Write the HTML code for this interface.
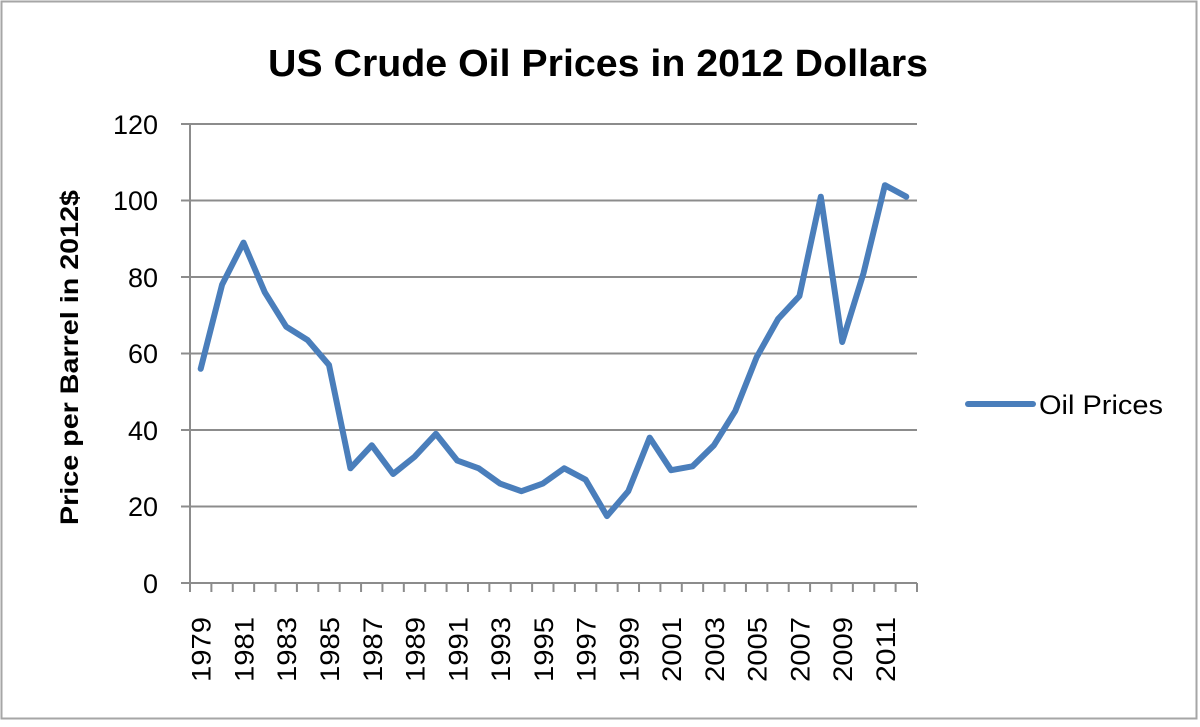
<!DOCTYPE html>
<html><head><meta charset="utf-8"><style>
html,body{margin:0;padding:0;background:#fff;}
</style></head><body>
<svg width="1200" height="722" viewBox="0 0 1200 722" xmlns="http://www.w3.org/2000/svg" font-family="Liberation Sans, DejaVu Sans, sans-serif">
<rect x="1.5" y="1.5" width="1195" height="717" fill="#fff" stroke="#a6a6a6" stroke-width="2"/>
<text x="268" y="76" textLength="660" lengthAdjust="spacingAndGlyphs" font-size="38" font-weight="bold" fill="#000">US Crude Oil Prices in 2012 Dollars</text>
<g stroke="#8c8c8c" stroke-width="2">
<line x1="181" y1="124" x2="917" y2="124"/>
<line x1="181" y1="200.5" x2="917" y2="200.5"/>
<line x1="181" y1="277" x2="917" y2="277"/>
<line x1="181" y1="353.5" x2="917" y2="353.5"/>
<line x1="181" y1="430" x2="917" y2="430"/>
<line x1="181" y1="506.5" x2="917" y2="506.5"/>
<line x1="181" y1="583" x2="917" y2="583"/>
<line x1="190" y1="124" x2="190" y2="592"/>
</g>
<g id="ticks" stroke="#8c8c8c" stroke-width="2"></g>
<g font-size="27" fill="#000" text-anchor="end">
<text x="158" y="134">120</text>
<text x="158" y="210">100</text>
<text x="158" y="287">80</text>
<text x="158" y="363">60</text>
<text x="158" y="440">40</text>
<text x="158" y="516">20</text>
<text x="158" y="593">0</text>
</g>
<text transform="translate(78,525) rotate(-90)" textLength="335" lengthAdjust="spacingAndGlyphs" font-size="25" font-weight="bold" fill="#000">Price per Barrel in 2012$</text>
<g id="xl" font-size="27" fill="#000"></g>
<polyline id="ln" fill="none" stroke="#4a7ebb" stroke-width="6" stroke-linejoin="round" stroke-linecap="round"/>
<line x1="968" y1="404" x2="1033" y2="404" stroke="#4a7ebb" stroke-width="6" stroke-linecap="round"/>
<text x="1039" y="414" textLength="124" lengthAdjust="spacingAndGlyphs" font-size="27" fill="#000">Oil Prices</text>
</svg>
<script>
var v=[56,78,89,76,67,63.5,57,30,36,28.5,33,39,32,30,26,24,26,30,27,17.5,24,38,29.5,30.5,36,45,59,69,75,101,63,81,104,101];
var x0=190,w=(917-190)/34,pts=[],t='',l='';
for(var i=0;i<v.length;i++){var x=x0+w*(i+0.5);pts.push(x.toFixed(1)+','+(583-v[i]*76.5/20).toFixed(1));}
for(var i=0;i<=34;i++){var x=x0+w*i;t+='<line x1="'+x+'" y1="583" x2="'+x+'" y2="592"/>';}
for(var i=0;i<34;i+=2){var x=x0+w*(i+0.5)+10;l+='<text transform="translate('+x+',682) rotate(-90)" textLength="65" lengthAdjust="spacingAndGlyphs">'+(1979+i)+'</text>';}
document.getElementById('ln').setAttribute('points',pts.join(' '));
document.getElementById('ticks').innerHTML=t;
document.getElementById('xl').innerHTML=l;
</script>
</body></html>
